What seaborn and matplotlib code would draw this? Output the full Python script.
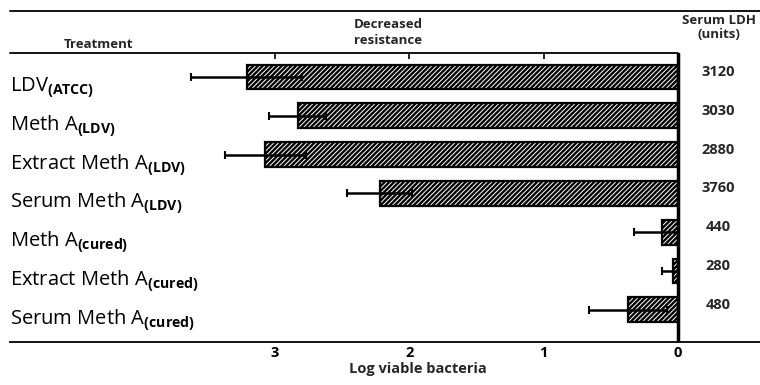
import numpy as np
import pandas as pd
import matplotlib
matplotlib.use('Agg')
import matplotlib.pyplot as plt
import seaborn as sns
from matplotlib.lines import Line2D
from matplotlib.transforms import blended_transform_factory

# Dữ liệu
treatments = ['LDV', 'Meth A', 'Extract Meth A', 'Serum Meth A',
              'Meth A', 'Extract Meth A', 'Serum Meth A']
subscripts = ['(ATCC)', '(LDV)', '(LDV)', '(LDV)', '(cured)', '(cured)', '(cured)']
log_decrease = [3.21, 2.83, 3.07, 2.22, 0.12, 0.04, 0.37]
log_err = [0.41, 0.21, 0.30, 0.24, 0.21, 0.08, 0.29]
serum_ldh = [3120, 3030, 2880, 3760, 440, 280, 480]
x_ticks = [3, 2, 1, 0]

W, H = 760, 385


def px(x, y):
    """Đổi toạ độ pixel sang toạ độ figure"""
    return x / W, 1 - y / H


sns.set_style('white')
plt.rcParams['font.family'] = ['Open Sans', 'DejaVu Sans']
plt.rcParams['mathtext.fontset'] = 'custom'
plt.rcParams['mathtext.rm'] = 'Open Sans'
plt.rcParams['mathtext.bf'] = 'Open Sans:bold'
plt.rcParams['hatch.linewidth'] = 1.7

df = pd.DataFrame({
    'Treatment': [t + ' ' + s for t, s in zip(treatments, subscripts)],
    'Log': log_decrease,
    'Err': log_err,
})

fig = plt.figure(figsize=(W / 100, H / 100), dpi=100)
ax = fig.add_axes([10 / W, (H - 342) / H, 750 / W, (342 - 53) / H])

# Cột ngang có gạch chéo
sns.barplot(data=df, x='Log', y='Treatment', orient='h', color='white',
            saturation=1, edgecolor='black', linewidth=1.6, hatch='///////',
            width=0.64, errorbar=None, ax=ax)

# Thanh sai số (không vượt qua đường 0)
rows = np.arange(len(df))
err_in = np.minimum(df['Err'], df['Log'])
ax.errorbar(df['Log'], rows, xerr=[err_in, df['Err']], fmt='none',
            ecolor='black', elinewidth=1.8, capsize=3, capthick=1.5)

ax.set_xlim(4.97, -0.61)
ax.set_ylim(6.83, -0.62)
ax.set_yticks([])
ax.set_ylabel('')
ax.set_xticks(x_ticks)
ax.set_xticklabels([str(t) for t in x_ticks], fontweight='bold')
ax.tick_params(axis='x', direction='in', length=4, width=1.2, top=True,
               labelsize=10.5, pad=3, colors='black')
ax.set_xlabel('Log viable bacteria', fontsize=10.5, fontweight='bold')
ax.xaxis.set_label_coords((418 - 10) / 750, -0.07)

for side in ['left', 'right', 'top']:
    ax.spines[side].set_visible(False)
ax.spines['bottom'].set_linewidth(1.3)
ax.spines['bottom'].set_color('black')

# Đường 0 và đường kẻ tiêu đề
ax.axvline(0, color='black', lw=2.5)
ax.plot([0, (678 - 10) / 750], [1, 1], transform=ax.transAxes,
        clip_on=False, color='black', lw=1.3)
fig.add_artist(Line2D([10 / W, 1], [1 - 11 / H] * 2, color='black', lw=1.3))

# Nhãn nghiệm thức bên trái
trans = blended_transform_factory(ax.transAxes, ax.transData)
for i, (t, s) in enumerate(zip(treatments, subscripts)):
    ax.text(0, i + 0.28, rf'{t}$_{{\mathbf{{{s}}}}}$', transform=trans,
            ha='left', va='center', fontsize=14.5, color='black')

# Giá trị LDH bên phải
for i, v in enumerate(serum_ldh):
    ax.text(-0.30, i - 0.13, str(v), ha='center', va='center',
            fontsize=10.5, fontweight='bold')

# Tiêu đề cột
head = dict(ha='center', va='center', fontsize=9.5, fontweight='bold')
fig.text(*px(98, 44), 'Treatment', **head)
fig.text(*px(388, 25), 'Decreased', **head)
fig.text(*px(388, 41), 'resistance', **head)
fig.text(*px(719, 20), 'Serum LDH', **head)
fig.text(*px(719, 34), '(units)', **head)

fig.savefig('out.png', dpi=100)
